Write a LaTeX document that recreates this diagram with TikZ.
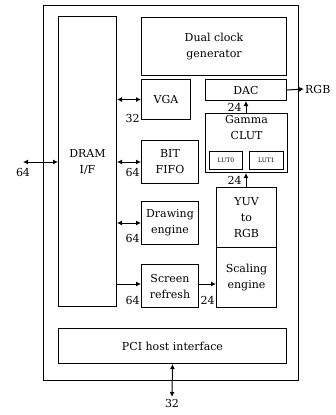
\documentclass[tikz,border=0pt]{standalone}
\usepackage{fontspec}
\setmainfont{DejaVu Serif}
\usetikzlibrary{arrows.meta}

\begin{document}
\begin{tikzpicture}[
  x=1pt, y=-1pt,
  every node/.style={font=\fontsize{11}{16}\selectfont},
  blk/.style={draw, line width=1pt, anchor=north west, inner sep=0pt, align=center},
  bus/.style={line width=1pt, {Latex[length=5pt,width=5pt]}-{Latex[length=5pt,width=5pt]}},
  link/.style={line width=1pt, -{Latex[length=5pt,width=5pt]}},
  lbl/.style={inner sep=1pt}
]
\useasboundingbox (0,0) rectangle (336,415);

\node[blk, minimum width=255pt, minimum height=375pt] (chip) at (43,5) {};
\node[blk, minimum width=58pt, minimum height=290pt] (dram) at (58,16) {DRAM\\I/F};
\node[blk, minimum width=145pt, minimum height=58pt] (clock) at (141,17) {Dual clock\\generator};
\node[blk, minimum width=49pt, minimum height=40pt] (vga) at (141,79) {VGA};
\node[blk, minimum width=81pt, minimum height=21pt] (dac) at (205,79) {DAC};
\node[blk, minimum width=82pt, minimum height=59pt] (clut) at (205,113) {};
\node[align=center, anchor=north, inner sep=2pt] (clutname) at (clut.north) {Gamma\\CLUT};
\node[blk, minimum width=33pt, minimum height=18pt, font=\fontsize{6}{7}\selectfont] (lut0) at (209,151) {LUT0};
\node[blk, minimum width=34pt, minimum height=18pt, font=\fontsize{6}{7}\selectfont] (lut1) at (249,151) {LUT1};
\node[blk, minimum width=57pt, minimum height=43pt] (fifo) at (141,140) {BIT\\FIFO};
\node[blk, minimum width=57pt, minimum height=43pt] (drawing) at (141,201) {Drawing\\engine};
\node[blk, minimum width=57pt, minimum height=43pt] (refresh) at (141,264) {Screen\\refresh};
\node[blk, minimum width=60pt, minimum height=60pt] (yuv) at (216,187) {YUV\\to\\RGB};
\node[blk, minimum width=60pt, minimum height=60pt] (scaling) at (216,247) {Scaling\\engine};
\node[blk, minimum width=228pt, minimum height=35pt] (pci) at (58,328) {PCI host interface};

\coordinate (ext) at (23,162);
\coordinate (host) at (172,397);
\node[anchor=west, inner sep=1pt] (rgb) at (304,89) {RGB};

\draw[bus] (ext) -- (ext -| dram.west) node[lbl, pos=0, anchor=north, yshift=-5pt] {64};
\draw[bus] (dram.east |- vga.west) -- (vga.west) node[lbl, pos=1, anchor=north east, yshift=-13pt] {32};
\draw[bus] (dram.east |- fifo.west) -- (fifo.west) node[lbl, pos=1, anchor=north east, yshift=-5pt] {64};
\draw[bus] (dram.east |- drawing.west) -- (drawing.west) node[lbl, pos=1, anchor=north east, yshift=-10pt] {64};
\draw[link] (dram.east |- 0,284) coordinate (r0) -- (refresh.west |- r0) node[lbl, pos=1, anchor=north east, yshift=-11pt] {64};
\draw[link] (refresh.east |- r0) -- (scaling.west |- r0) node[lbl, pos=1, anchor=north east, yshift=-11pt] {24};
\draw[link] (yuv.north -| 246,0) coordinate (c0) -- (clut.south -| c0) node[lbl, midway, anchor=east, xshift=-3pt] {24};
\draw[link] (clut.north -| c0) -- (dac.south -| c0) node[lbl, midway, anchor=east, xshift=-3pt] {24};
\draw[link] (dac.east) -- (rgb.west);
\draw[bus] (pci.south) -- (host) node[lbl, below=1pt] {32};
\end{tikzpicture}
\end{document}
